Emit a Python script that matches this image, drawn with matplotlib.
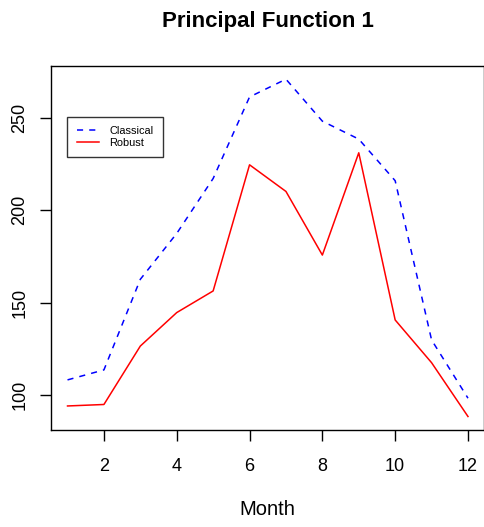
import matplotlib.pyplot as plt
import numpy as np

months = np.arange(1, 13)
classical = [108.3, 113.7, 162.7, 187.5, 217.2, 261.3, 270.9, 248.2, 238.5, 216.0, 129.9, 98.4]
robust = [94.2, 95.0, 126.6, 144.7, 156.4, 224.6, 210.2, 175.8, 231.1, 140.7, 117.6, 88.5]
xticks = [2, 4, 6, 8, 10, 12]
yticks = [100, 150, 200, 250]

plt.rcParams['font.family'] = ['Liberation Sans', 'DejaVu Sans']

W, H = 485, 527
fig = plt.figure(figsize=(W / 100, H / 100), dpi=100)
ax = fig.add_axes([51.5 / W, 1 - 430 / H, (484 - 51.5) / W, (430 - 65.7) / H])

ax.plot(months, classical, color='blue', linestyle=(0, (4, 4)), linewidth=1.1, label='Classical')
ax.plot(months, robust, color='red', linestyle='-', linewidth=1.1, label='Robust')

# R-style axis padding: 4% of the data range on each side
lo = min(min(classical), min(robust))
hi = max(max(classical), max(robust))
pad = 0.04 * (hi - lo)
ax.set_ylim(lo - pad, hi + pad)
ax.set_xlim(1 - 0.44, 12 + 0.44)

ax.set_xticks(xticks)
ax.set_yticks(yticks)
ax.set_yticklabels([str(v) for v in yticks], rotation=90, va='center')
ax.tick_params(direction='out', length=8, width=1, labelsize=13)
ax.tick_params(axis='x', pad=12)
ax.tick_params(axis='y', pad=8.5)
for s in ax.spines.values():
    s.set_linewidth(1)

cx = (51.5 + 484) / 2 / W
fig.text(cx, 1 - 509.5 / H, 'Month', ha='center', va='center', fontsize=14.5)
fig.text(cx, 1 - 21 / H, 'Principal Function 1', ha='center', va='center',
         fontsize=16, fontweight='bold')

leg = ax.legend(loc='upper left', bbox_to_anchor=((67.3 - 51.5) / (484 - 51.5), (430 - 116.7) / (430 - 65.7)),
                fontsize=7.9, frameon=True, fancybox=False, edgecolor='black', handlelength=2.05,
                borderpad=0.85, labelspacing=0.15, handletextpad=0.95, borderaxespad=0)
leg.get_frame().set_linewidth(1)

fig.savefig('out.png', dpi=100)
